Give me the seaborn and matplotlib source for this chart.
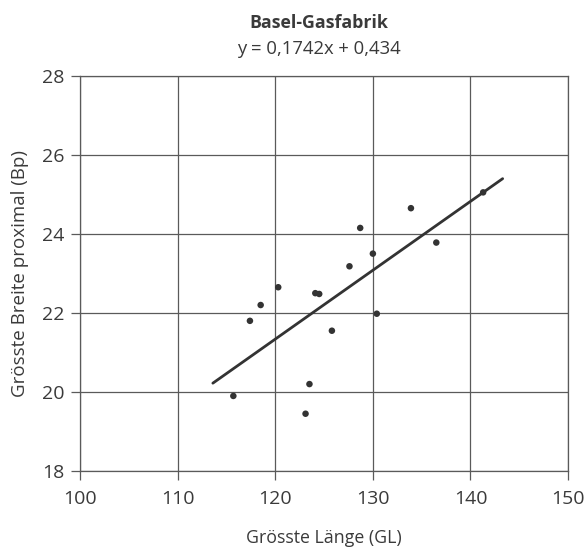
import matplotlib
matplotlib.use("Agg")
import matplotlib.pyplot as plt
import numpy as np
import pandas as pd
import seaborn as sns

gl_length = [115.7, 117.4, 118.5, 120.3, 124.1, 124.5, 123.5, 123.1, 125.8,
             127.6, 128.7, 130.0, 130.4, 133.9, 136.5, 141.3]
bp_width = [19.9, 21.8, 22.2, 22.65, 22.5, 22.48, 20.2, 19.45, 21.55,
            23.18, 24.15, 23.5, 21.98, 24.65, 23.78, 25.05]

# Regression line y = 0.1742x + 0.434 and the x range it is drawn over
slope = 0.1742
intercept = 0.434
line_x = [113.6, 143.3]

TEXT = "#3a3a3a"
GRID = "#5a5a5a"

sns.set_theme(style="white")
plt.rcParams["font.family"] = ["Open Sans", "DejaVu Sans"]

points = pd.DataFrame({"GL": gl_length, "Bp": bp_width})
fit = pd.DataFrame({"GL": line_x})
fit["Bp"] = slope * fit["GL"] + intercept

fig = plt.figure(figsize=(5.85, 5.49), dpi=100)
ax = fig.add_axes([0.137, 0.142, 0.834, 0.720])

sns.lineplot(data=fit, x="GL", y="Bp", color="#333333", linewidth=2.0, ax=ax)
sns.scatterplot(data=points, x="GL", y="Bp", color="#333333", s=22,
                edgecolor="none", ax=ax, zorder=3)

ax.set_xlim(100, 150)
ax.set_ylim(18, 28)
ax.set_xticks(np.arange(100, 151, 10))
ax.set_yticks(np.arange(18, 29, 2))
ax.grid(True, color=GRID, linewidth=0.9)
ax.set_axisbelow(True)
for side in ax.spines.values():
    side.set_color(GRID)
    side.set_linewidth(0.9)

ax.tick_params(axis="both", colors=GRID, labelcolor=TEXT, labelsize=14,
               direction="out", length=6.5, width=0.9,
               bottom=True, left=True)
ax.tick_params(axis="x", pad=7.5)
ax.tick_params(axis="y", pad=5)

ax.set_xlabel("Grösste Länge (GL)", fontsize=12.8, color=TEXT, labelpad=14.5)
ax.set_ylabel("Grösste Breite proximal (Bp)", fontsize=13.5, color=TEXT,
              labelpad=9)

fig.text(0.545, 0.958, "Basel-Gasfabrik", ha="center", va="center",
         fontsize=12.8, fontweight="bold", color=TEXT)
fig.text(0.545, 0.91, f"y = {slope:.4f}x + {intercept:.3f}".replace(".", ","),
         ha="center", va="center", fontsize=13.3, color=TEXT)

fig.savefig("out.png", dpi=100)
